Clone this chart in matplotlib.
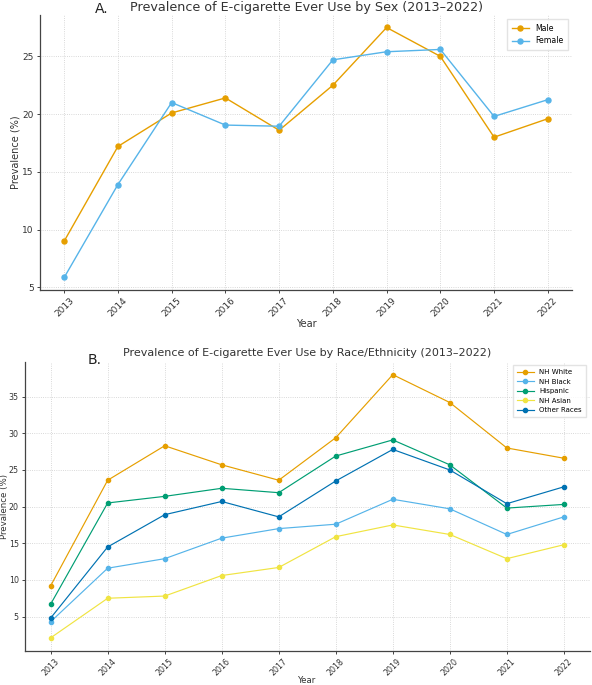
import numpy as np
import matplotlib
matplotlib.use("Agg")
import matplotlib.pyplot as plt

years = [2013, 2014, 2015, 2016, 2017, 2018, 2019, 2020, 2021, 2022]

# panel A - by sex
male = [9.0, 17.2, 20.1, 21.4, 18.6, 22.5, 27.5, 25.0, 18.0, 19.6]
female = [5.85, 13.9, 21.0, 19.05, 18.95, 24.7, 25.4, 25.6, 19.8, 21.25]

# panel B - by race/ethnicity
nh_white = [9.2, 23.6, 28.3, 25.7, 23.6, 29.4, 38.0, 34.2, 28.0, 26.6]
nh_black = [4.3, 11.6, 12.9, 15.7, 17.0, 17.6, 21.0, 19.7, 16.2, 18.6]
hispanic = [6.7, 20.5, 21.4, 22.5, 21.9, 26.9, 29.1, 25.7, 19.8, 20.3]
nh_asian = [2.1, 7.5, 7.8, 10.6, 11.7, 15.9, 17.5, 16.2, 12.9, 14.8]
other = [4.8, 14.5, 18.9, 20.7, 18.6, 23.5, 27.8, 25.0, 20.4, 22.7]

sex_series = [("Male", male, "#E69F00"), ("Female", female, "#56B4E9")]
race_series = [
    ("NH White", nh_white, "#E69F00"),
    ("NH Black", nh_black, "#56B4E9"),
    ("Hispanic", hispanic, "#009E73"),
    ("NH Asian", nh_asian, "#F0E442"),
    ("Other Races", other, "#0072B2"),
]

W, H = 592, 685
fig = plt.figure(figsize=(W / 100, H / 100), dpi=100)


def box(l, t, r, b):
    # pixel box -> figure fraction
    return [l / W, 1 - b / H, (r - l) / W, (b - t) / H]


def style(ax, tick_fs, lab_fs):
    for s in ["top", "right"]:
        ax.spines[s].set_visible(False)
    for s in ["left", "bottom"]:
        ax.spines[s].set_color("#444444")
        ax.spines[s].set_linewidth(0.9)
    ax.grid(True, linestyle=":", linewidth=0.6, color="#cccccc")
    ax.set_axisbelow(True)
    ax.set_xticks(years)
    ax.tick_params(axis="both", labelsize=tick_fs, length=2.5, width=0.7,
                   colors="#444444", labelcolor="#333333", pad=2)
    plt.setp(ax.get_xticklabels(), rotation=45)
    ax.set_xlabel("Year", fontsize=lab_fs, color="#333333")
    ax.set_ylabel("Prevalence (%)", fontsize=lab_fs, color="#333333")


# ---- A ----
ax1 = fig.add_axes(box(40, 15, 572, 290))
for name, vals, col in sex_series:
    ax1.plot(years, vals, marker="o", color=col, linewidth=1.0, markersize=3.6, label=name)
style(ax1, 6.5, 7)
ax1.set_yticks([5, 10, 15, 20, 25])
ax1.xaxis.set_label_coords(0.5, -0.105)
ax1.yaxis.set_label_coords(-0.036, 0.5)
ax1.set_title("Prevalence of E-cigarette Ever Use by Sex (2013\u20132022)",
              fontsize=9.2, color="#333333", pad=3)
ax1.legend(loc="upper right", fontsize=5.6, frameon=True, edgecolor="#dddddd",
           fancybox=False, handlelength=2.2, borderpad=0.6)
fig.text(95 / W, 1 - 13 / H, "A.", fontsize=10, color="#222222")

# ---- B ----
ax2 = fig.add_axes(box(25, 361.5, 589.5, 651))
for name, vals, col in race_series:
    ax2.plot(years, vals, marker="o", color=col, linewidth=0.85, markersize=3.0, label=name)
style(ax2, 5.7, 6.2)
ax2.set_yticks([5, 10, 15, 20, 25, 30, 35])
ax2.xaxis.set_label_coords(0.5, -0.086)
ax2.yaxis.set_label_coords(-0.028, 0.5)
ax2.set_title("Prevalence of E-cigarette Ever Use by Race/Ethnicity (2013\u20132022)",
              fontsize=8.0, color="#333333", pad=4)
ax2.legend(loc="upper right", fontsize=5.0, frameon=True, edgecolor="#dddddd",
           fancybox=False, handlelength=2.4, borderpad=0.6)
fig.text(88 / W, 1 - 364 / H, "B.", fontsize=10, color="#222222")

fig.savefig("out.png", dpi=100)
